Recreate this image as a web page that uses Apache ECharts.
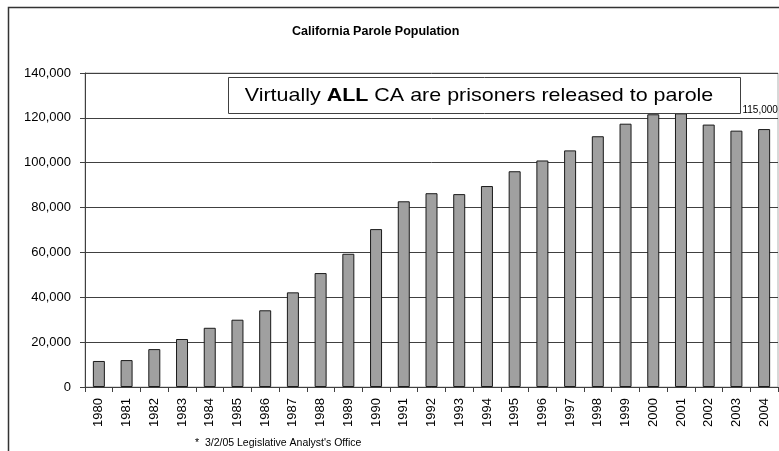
<!DOCTYPE html>
<html>
<head>
<meta charset="utf-8">
<title>California Parole Population</title>
<script src="https://cdn.jsdelivr.net/npm/echarts@6/dist/echarts.min.js"></script>
<style>
  html, body { margin: 0; padding: 0; background: #ffffff; }
  #chart { width: 779px; height: 451px; }
</style>
</head>
<body>
<div id="chart"></div>
<script>
// Parole population by year (California)
const years = ['1980','1981','1982','1983','1984','1985','1986','1987','1988','1989',
               '1990','1991','1992','1993','1994','1995','1996','1997','1998','1999',
               '2000','2001','2002','2003','2004'];
const parolees = [11600, 12000, 16900, 21400, 26400, 30000, 34200, 42200, 50800, 59400,
                  70400, 82800, 86400, 86000, 89600, 96200, 101000, 105500, 111800, 117400,
                  121600, 122000, 117000, 114300, 115000];
const yTicks = { min: 0, max: 140000, step: 20000 };
const labelledYear = '2004';

const FONT = '"Liberation Sans", Arial, sans-serif';
const fmt = v => String(v).replace(/\B(?=(\d{3})+(?!\d))/g, ',');

const chart = echarts.init(document.getElementById('chart'), null, { renderer: 'canvas' });

const seriesData = parolees.map((v, i) => {
  if (years[i] !== labelledYear) return v;
  return {
    value: v,
    label: {
      show: true,
      position: 'top',
      offset: [-4, -9],
      formatter: p => fmt(p.value),
      fontFamily: FONT,
      fontSize: 10,
      color: '#000'
    }
  };
});

chart.setOption({
  animation: false,
  backgroundColor: '#ffffff',
  title: {
    text: 'California Parole Population',
    left: 292,
    top: 25,
    padding: 0,
    textStyle: { fontFamily: FONT, fontSize: 12.5, fontWeight: 'bold', color: '#000' }
  },
  grid: { left: 85, right: 1, top: 73, bottom: 64, containLabel: false,
          show: true, borderColor: '#b0b0b0', borderWidth: 1 },
  xAxis: {
    type: 'category',
    data: years,
    boundaryGap: true,
    axisLine: { lineStyle: { color: '#404040', width: 1 } },
    axisTick: { show: true, interval: 0, length: 5, inside: false, lineStyle: { color: '#404040' } },
    axisLabel: { interval: 0, rotate: 90, margin: 11, fontFamily: FONT, fontSize: 13, color: '#000' },
    splitLine: { show: false }
  },
  yAxis: {
    type: 'value',
    min: yTicks.min,
    max: yTicks.max,
    interval: yTicks.step,
    axisLine: { show: true, lineStyle: { color: '#404040', width: 1 } },
    axisTick: { show: true, length: 5, lineStyle: { color: '#404040' } },
    axisLabel: { margin: 14, fontFamily: FONT, fontSize: 13, color: '#000', formatter: v => fmt(v) },
    splitLine: { show: true, lineStyle: { color: '#404040', width: 1 } }
  },
  series: [{
    type: 'bar',
    data: seriesData,
    barWidth: 12,
    itemStyle: { color: '#a0a0a0', borderColor: '#1a1a1a', borderWidth: 1 }
  }],
  graphic: [
    {
      type: 'polyline',
      shape: { points: [[8.5, 451], [8.5, 7.5], [779, 7.5]] },
      style: { stroke: '#333', lineWidth: 1.5, fill: null },
      z: 100
    },
    {
      type: 'rect',
      shape: { x: 228.5, y: 77.5, width: 512, height: 36 },
      style: { fill: '#ffffff', stroke: '#404040', lineWidth: 1 },
      z: 100
    },
    {
      type: 'text',
      x: 479,
      y: 96,
      scaleX: 1.13,
      style: {
        text: '{n|Virtually }{b|ALL}{n| CA are prisoners released to parole}',
        align: 'center',
        verticalAlign: 'middle',
        rich: {
          n: { fontFamily: FONT, fontSize: 19, color: '#000' },
          b: { fontFamily: FONT, fontSize: 19, fontWeight: 'bold', color: '#000' }
        }
      },
      z: 101
    },
    {
      type: 'text',
      x: 195,
      y: 443,
      style: {
        text: '*  3/2/05 Legislative Analyst\'s Office',
        fontFamily: FONT,
        fontSize: 10.5,
        fill: '#000',
        verticalAlign: 'middle'
      }
    }
  ]
});
</script>
</body>
</html>
